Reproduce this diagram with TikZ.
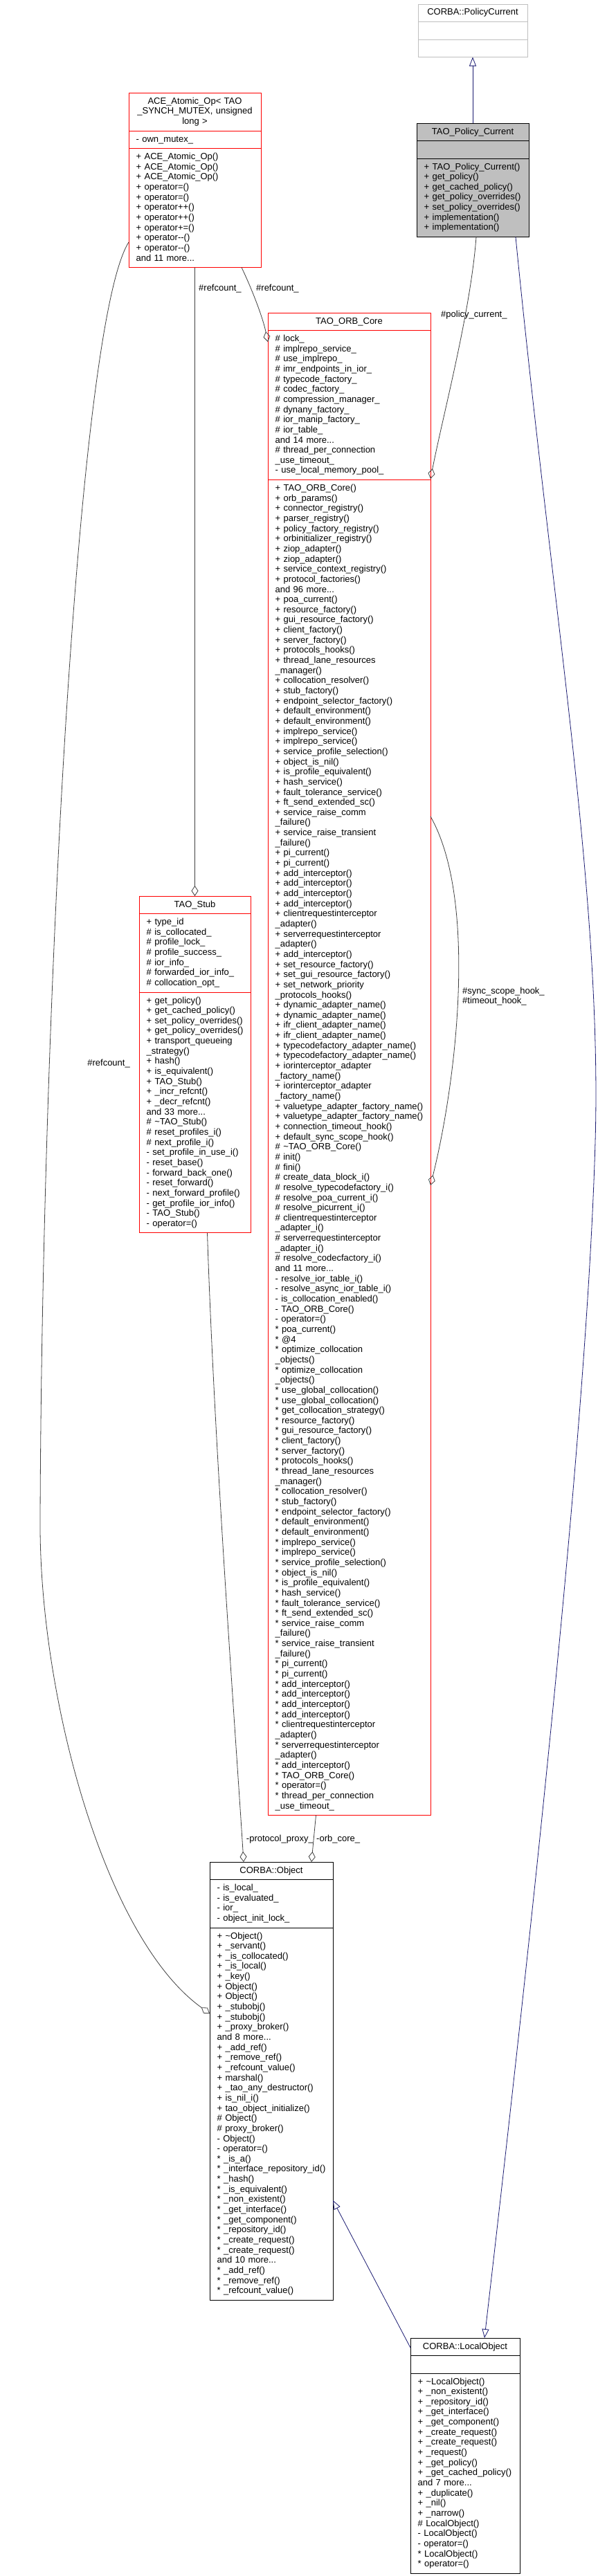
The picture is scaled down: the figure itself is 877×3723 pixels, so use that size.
\documentclass[tikz,border=0pt]{standalone}
\usepackage{fontspec}
\newfontfamily\dxfont{Liberation Sans}
\usetikzlibrary{arrows.meta}
\definecolor{edgegray}{HTML}{404040}
\definecolor{inhblue}{HTML}{191970}
\definecolor{boxred}{HTML}{FF0000}
\definecolor{boxgray}{HTML}{BFBFBF}
\newcommand{\dxf}{\dxfont\fontsize{13pt}{14.65pt}\selectfont}
\newcommand{\dxsep}[3]{\draw[#3, line width=0.9pt] ([yshift=-#2]#1.north west) -- ([yshift=-#2]#1.north east);}
\begin{document}
\begin{tikzpicture}[x=1pt,y=1pt,
  cls/.style={draw, line width=0.9pt, inner sep=0pt, outer sep=0pt, anchor=north west, fill=white},
  ttl/.style={anchor=base, inner sep=0pt, font=\dxf},
  mem/.style={anchor=base west, inner sep=0pt, text width=300pt, align=left, font=\dxf},
  lbl/.style={inner sep=0pt, font=\dxf, align=left},
  agg/.style={draw=edgegray, line width=0.8pt, -{Diamond[open, length=15pt, width=10pt, line width=0.8pt]}},
  inh/.style={draw=inhblue, line width=0.8pt, -{Triangle[open, length=13pt, width=10pt, line width=0.8pt]}},
]
\useasboundingbox (0,0) rectangle (877,-3723);

% CORBA::PolicyCurrent
\node[cls, draw=boxgray, minimum width=158pt, minimum height=76.5pt] (pc) at (604,-6) {};
\dxsep{pc}{25.5pt}{boxgray}
\dxsep{pc}{51pt}{boxgray}
\node[ttl] (pc-t) at ([yshift=-16pt]pc.north) {CORBA::PolicyCurrent};

% TAO_Policy_Current
\node[cls, draw=black, fill=boxgray, minimum width=162pt, minimum height=164.5pt] (tpc) at (602,-178) {};
\dxsep{tpc}{25.5pt}{black}
\dxsep{tpc}{51pt}{black}
\node[ttl] (tpc-t) at ([yshift=-16pt]tpc.north) {TAO\_Policy\_Current};
\node[mem] (tpc-m) at ([xshift=10.5pt,yshift=-67pt]tpc.north west) {+ TAO\_Policy\_Current()\\
+ get\_policy()\\
+ get\_cached\_policy()\\
+ get\_policy\_overrides()\\
+ set\_policy\_overrides()\\
+ implementation()\\
+ implementation()};

% ACE_Atomic_Op
\node[cls, draw=boxred, minimum width=191pt, minimum height=252.5pt] (ace) at (186,-134) {};
\dxsep{ace}{55pt}{boxred}
\dxsep{ace}{80.5pt}{boxred}
\node[ttl, text width=191pt, align=center] (ace-t) at ([yshift=-16pt]ace.north) {ACE\_Atomic\_Op< TAO\\\_SYNCH\_MUTEX, unsigned\\long >};
\node[mem] (ace-a) at ([xshift=10.5pt,yshift=-71pt]ace.north west) {- own\_mutex\_};
\node[mem] (ace-m) at ([xshift=10.5pt,yshift=-96.5pt]ace.north west) {+ ACE\_Atomic\_Op()\\
+ ACE\_Atomic\_Op()\\
+ ACE\_Atomic\_Op()\\
+ operator=()\\
+ operator=()\\
+ operator++()\\
+ operator++()\\
+ operator+=()\\
+ operator-{}-()\\
+ operator-{}-()\\
and 11 more...};

% TAO_Stub
\node[cls, draw=boxred, minimum width=161pt, minimum height=486.85pt] (stub) at (201,-1295) {};
\dxsep{stub}{25.5pt}{boxred}
\dxsep{stub}{139pt}{boxred}
\node[ttl] (stub-t) at ([yshift=-16pt]stub.north) {TAO\_Stub};
\node[mem] (stub-a) at ([xshift=10.5pt,yshift=-41.5pt]stub.north west) {+ type\_id\\
\# is\_collocated\_\\
\# profile\_lock\_\\
\# profile\_success\_\\
\# ior\_info\_\\
\# forwarded\_ior\_info\_\\
\# collocation\_opt\_};
\node[mem] (stub-m) at ([xshift=10.5pt,yshift=-155pt]stub.north west) {+ get\_policy()\\
+ get\_cached\_policy()\\
+ set\_policy\_overrides()\\
+ get\_policy\_overrides()\\
+ transport\_queueing\\
\_strategy()\\
+ hash()\\
+ is\_equivalent()\\
+ TAO\_Stub()\\
+ \_incr\_refcnt()\\
+ \_decr\_refcnt()\\
and 33 more...\\
\# \textasciitilde TAO\_Stub()\\
\# reset\_profiles\_i()\\
\# next\_profile\_i()\\
- set\_profile\_in\_use\_i()\\
- reset\_base()\\
- forward\_back\_one()\\
- reset\_forward()\\
- next\_forward\_profile()\\
- get\_profile\_ior\_info()\\
- TAO\_Stub()\\
- operator=()};

% TAO_ORB_Core
\node[cls, draw=boxred, minimum width=235pt, minimum height=2171.55pt] (orb) at (387,-452) {};
\dxsep{orb}{25.5pt}{boxred}
\dxsep{orb}{241.5pt}{boxred}
\node[ttl] (orb-t) at ([yshift=-16pt]orb.north) {TAO\_ORB\_Core};
\node[mem] (orb-a) at ([xshift=10.5pt,yshift=-41.5pt]orb.north west) {\# lock\_\\
\# implrepo\_service\_\\
\# use\_implrepo\_\\
\# imr\_endpoints\_in\_ior\_\\
\# typecode\_factory\_\\
\# codec\_factory\_\\
\# compression\_manager\_\\
\# dynany\_factory\_\\
\# ior\_manip\_factory\_\\
\# ior\_table\_\\
and 14 more...\\
\# thread\_per\_connection\\
\_use\_timeout\_\\
- use\_local\_memory\_pool\_};
\node[mem] (orb-m) at ([xshift=10.5pt,yshift=-257.5pt]orb.north west) {+ TAO\_ORB\_Core()\\
+ orb\_params()\\
+ connector\_registry()\\
+ parser\_registry()\\
+ policy\_factory\_registry()\\
+ orbinitializer\_registry()\\
+ ziop\_adapter()\\
+ ziop\_adapter()\\
+ service\_context\_registry()\\
+ protocol\_factories()\\
and 96 more...\\
+ poa\_current()\\
+ resource\_factory()\\
+ gui\_resource\_factory()\\
+ client\_factory()\\
+ server\_factory()\\
+ protocols\_hooks()\\
+ thread\_lane\_resources\\
\_manager()\\
+ collocation\_resolver()\\
+ stub\_factory()\\
+ endpoint\_selector\_factory()\\
+ default\_environment()\\
+ default\_environment()\\
+ implrepo\_service()\\
+ implrepo\_service()\\
+ service\_profile\_selection()\\
+ object\_is\_nil()\\
+ is\_profile\_equivalent()\\
+ hash\_service()\\
+ fault\_tolerance\_service()\\
+ ft\_send\_extended\_sc()\\
+ service\_raise\_comm\\
\_failure()\\
+ service\_raise\_transient\\
\_failure()\\
+ pi\_current()\\
+ pi\_current()\\
+ add\_interceptor()\\
+ add\_interceptor()\\
+ add\_interceptor()\\
+ add\_interceptor()\\
+ clientrequestinterceptor\\
\_adapter()\\
+ serverrequestinterceptor\\
\_adapter()\\
+ add\_interceptor()\\
+ set\_resource\_factory()\\
+ set\_gui\_resource\_factory()\\
+ set\_network\_priority\\
\_protocols\_hooks()\\
+ dynamic\_adapter\_name()\\
+ dynamic\_adapter\_name()\\
+ ifr\_client\_adapter\_name()\\
+ ifr\_client\_adapter\_name()\\
+ typecodefactory\_adapter\_name()\\
+ typecodefactory\_adapter\_name()\\
+ iorinterceptor\_adapter\\
\_factory\_name()\\
+ iorinterceptor\_adapter\\
\_factory\_name()\\
+ valuetype\_adapter\_factory\_name()\\
+ valuetype\_adapter\_factory\_name()\\
+ connection\_timeout\_hook()\\
+ default\_sync\_scope\_hook()\\
\# \textasciitilde TAO\_ORB\_Core()\\
\# init()\\
\# fini()\\
\# create\_data\_block\_i()\\
\# resolve\_typecodefactory\_i()\\
\# resolve\_poa\_current\_i()\\
\# resolve\_picurrent\_i()\\
\# clientrequestinterceptor\\
\_adapter\_i()\\
\# serverrequestinterceptor\\
\_adapter\_i()\\
\# resolve\_codecfactory\_i()\\
and 11 more...\\
- resolve\_ior\_table\_i()\\
- resolve\_async\_ior\_table\_i()\\
- is\_collocation\_enabled()\\
- TAO\_ORB\_Core()\\
- operator=()\\
{*} poa\_current()\\
{*} @4\\
{*} optimize\_collocation\\
\_objects()\\
{*} optimize\_collocation\\
\_objects()\\
{*} use\_global\_collocation()\\
{*} use\_global\_collocation()\\
{*} get\_collocation\_strategy()\\
{*} resource\_factory()\\
{*} gui\_resource\_factory()\\
{*} client\_factory()\\
{*} server\_factory()\\
{*} protocols\_hooks()\\
{*} thread\_lane\_resources\\
\_manager()\\
{*} collocation\_resolver()\\
{*} stub\_factory()\\
{*} endpoint\_selector\_factory()\\
{*} default\_environment()\\
{*} default\_environment()\\
{*} implrepo\_service()\\
{*} implrepo\_service()\\
{*} service\_profile\_selection()\\
{*} object\_is\_nil()\\
{*} is\_profile\_equivalent()\\
{*} hash\_service()\\
{*} fault\_tolerance\_service()\\
{*} ft\_send\_extended\_sc()\\
{*} service\_raise\_comm\\
\_failure()\\
{*} service\_raise\_transient\\
\_failure()\\
{*} pi\_current()\\
{*} pi\_current()\\
{*} add\_interceptor()\\
{*} add\_interceptor()\\
{*} add\_interceptor()\\
{*} add\_interceptor()\\
{*} clientrequestinterceptor\\
\_adapter()\\
{*} serverrequestinterceptor\\
\_adapter()\\
{*} add\_interceptor()\\
{*} TAO\_ORB\_Core()\\
{*} operator=()\\
{*} thread\_per\_connection\\
\_use\_timeout\_};

% CORBA::Object
\node[cls, draw=black, minimum width=178pt, minimum height=633.3pt] (obj) at (303,-2691) {};
\dxsep{obj}{25.5pt}{black}
\dxsep{obj}{95pt}{black}
\node[ttl] (obj-t) at ([yshift=-16pt]obj.north) {CORBA::Object};
\node[mem] (obj-a) at ([xshift=10.5pt,yshift=-41.5pt]obj.north west) {- is\_local\_\\
- is\_evaluated\_\\
- ior\_\\
- object\_init\_lock\_};
\node[mem] (obj-m) at ([xshift=10.5pt,yshift=-111pt]obj.north west) {+ \textasciitilde Object()\\
+ \_servant()\\
+ \_is\_collocated()\\
+ \_is\_local()\\
+ \_key()\\
+ Object()\\
+ Object()\\
+ \_stubobj()\\
+ \_stubobj()\\
+ \_proxy\_broker()\\
and 8 more...\\
+ \_add\_ref()\\
+ \_remove\_ref()\\
+ \_refcount\_value()\\
+ marshal()\\
+ \_tao\_any\_destructor()\\
+ is\_nil\_i()\\
+ tao\_object\_initialize()\\
\# Object()\\
\# proxy\_broker()\\
- Object()\\
- operator=()\\
{*} \_is\_a()\\
{*} \_interface\_repository\_id()\\
{*} \_hash()\\
{*} \_is\_equivalent()\\
{*} \_non\_existent()\\
{*} \_get\_interface()\\
{*} \_get\_component()\\
{*} \_repository\_id()\\
{*} \_create\_request()\\
{*} \_create\_request()\\
and 10 more...\\
{*} \_add\_ref()\\
{*} \_remove\_ref()\\
{*} \_refcount\_value()};

% CORBA::LocalObject
\node[cls, draw=black, minimum width=158pt, minimum height=340.25pt] (lo) at (593,-3379) {};
\dxsep{lo}{25.5pt}{black}
\dxsep{lo}{51pt}{black}
\node[ttl] (lo-t) at ([yshift=-16pt]lo.north) {CORBA::LocalObject};
\node[mem] (lo-m) at ([xshift=10.5pt,yshift=-67pt]lo.north west) {+ \textasciitilde LocalObject()\\
+ \_non\_existent()\\
+ \_repository\_id()\\
+ \_get\_interface()\\
+ \_get\_component()\\
+ \_create\_request()\\
+ \_create\_request()\\
+ \_request()\\
+ \_get\_policy()\\
+ \_get\_cached\_policy()\\
and 7 more...\\
+ \_duplicate()\\
+ \_nil()\\
+ \_narrow()\\
\# LocalObject()\\
- LocalObject()\\
- operator=()\\
{*} LocalObject()\\
{*} operator=()};

% ---- connectors ----
\draw[inh] (tpc.north) -- (pc.south);
\draw[agg] ([xshift=5pt]tpc.south) .. controls (680,-450) and (640,-600) .. ([yshift=-240pt]orb.north east);
\node[lbl, anchor=west] (l-pol) at (637,-455) {\#policy\_current\_};
\draw[inh] ([xshift=62pt]tpc.south) .. controls (800,-900) and (870,-1300) .. (860,-1650) .. controls (850,-2000) and (790,-2600) .. ([xshift=28pt]lo.north);

\draw[agg] ([yshift=-216pt]ace.north west) .. controls (110,-470) and (60,-1500) .. (58,-2200) .. controls (57,-2450) and (150,-2800) .. ([yshift=-219pt]obj.north west);
\node[lbl, anchor=east] (l-rc1) at (188,-1537) {\#refcount\_};
\draw[agg] (ace.south) -- (stub.north);
\node[lbl, anchor=west] (l-rc2) at (287,-417) {\#refcount\_};
\draw[agg] ([xshift=67.5pt]ace.south) .. controls (365,-420) and (380,-460) .. ([yshift=-42pt]orb.north west);
\node[lbl, anchor=west] (l-rc3) at (370,-417) {\#refcount\_};

\draw[agg] ([yshift=-728pt]orb.north east) .. controls (690,-1300) and (660,-1560) .. ([yshift=-1261pt]orb.north east);
\node[lbl, anchor=west] (l-loop) at (668,-1440) {\#sync\_scope\_hook\_\\\#timeout\_hook\_};

\draw[agg] ([xshift=18pt]stub.south) .. controls (310,-2100) and (340,-2500) .. ([xshift=-40pt]obj.north);
\node[lbl, anchor=east] (l-pp) at (453,-2658) {-protocol\_proxy\_};
\draw[agg] ([xshift=-48pt]orb.south) -- ([xshift=58pt]obj.north);
\node[lbl, anchor=west] (l-oc) at (457,-2658) {-orb\_core\_};

\draw[inh] ([yshift=-14pt]lo.north west) -- ([yshift=-489pt]obj.north east);
\end{tikzpicture}
\end{document}
